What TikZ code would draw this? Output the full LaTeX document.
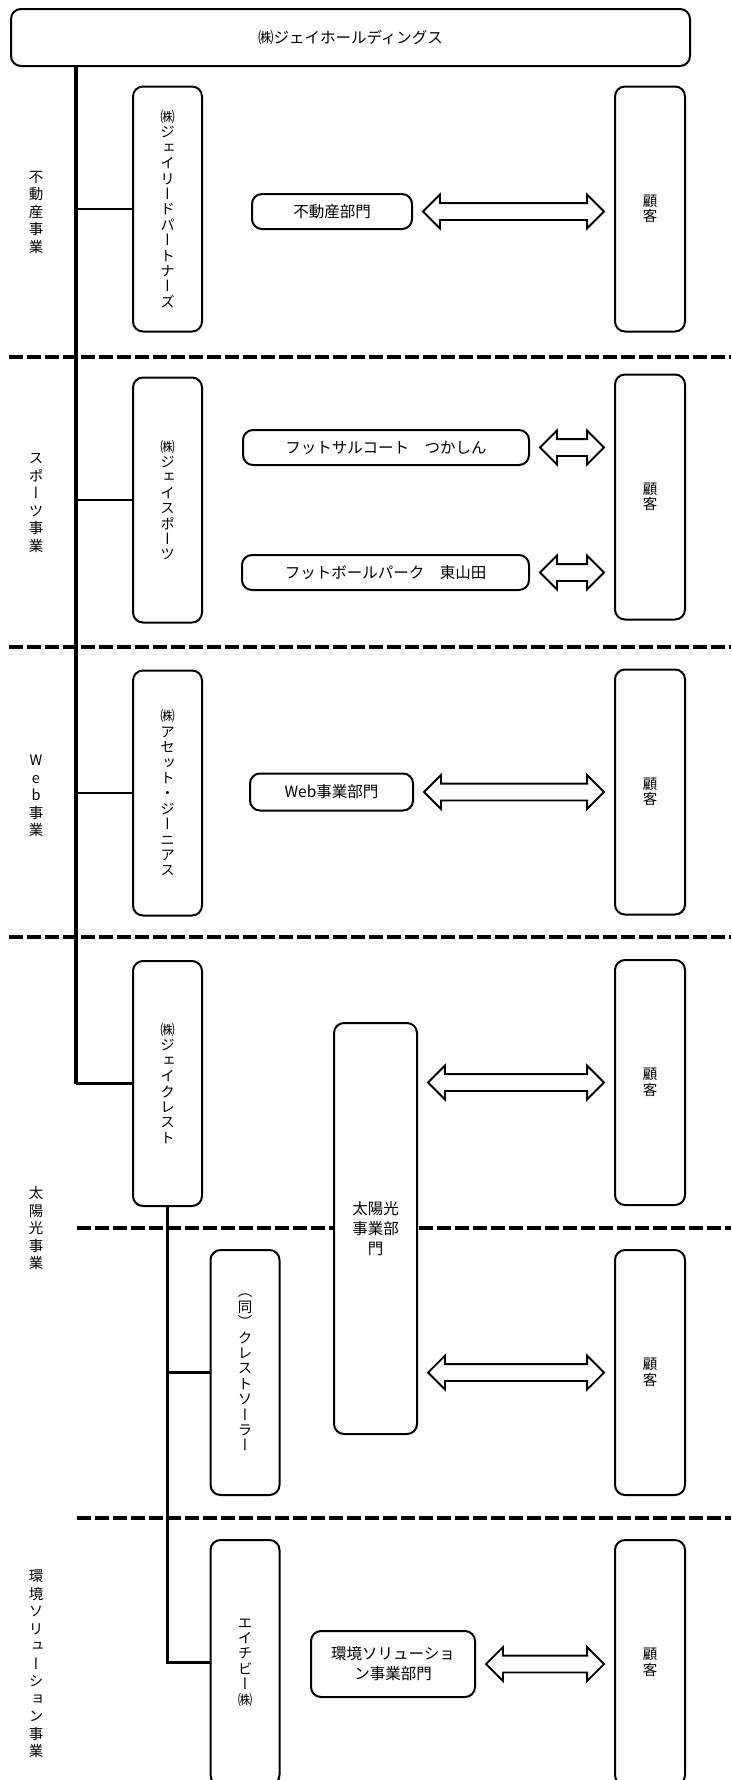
\documentclass[tikz,border=0pt]{standalone}
\usepackage{fontspec}
\setmainfont{Noto Sans CJK JP}
\newfontfamily\jpv[RawFeature=+vert]{Noto Sans CJK JP}
\usetikzlibrary{shapes.arrows,calc}

\newcommand\tate{\jpv\fontsize{14.5pt}{15.4pt}\selectfont\lineskiplimit=-20pt\relax}
\newcommand\tatelbl{\jpv\fontsize{14.5pt}{17.5pt}\selectfont\lineskiplimit=-20pt\relax}
\newcommand\yoko{\fontsize{15.5pt}{20pt}\selectfont}

\begin{document}
\begin{tikzpicture}[
x=1pt, y=-1pt,
box/.style={draw, line width=2pt, rounded corners=10pt, fill=white, inner sep=0pt, align=center},
co/.style={box, minimum width=69pt, minimum height=245pt, font=\tate},
cust/.style={co, minimum width=70pt},
dept/.style={box, minimum height=35pt, font=\yoko},
lbl/.style={align=center, inner sep=0pt, font=\tatelbl},
sep/.style={line width=3.3pt, dash pattern=on 14pt off 4pt},
trunk/.style={line width=4pt},
link/.style={line width=2.5pt},
dblarr/.style={double arrow, draw, fill=white, line width=1.8pt, inner xsep=0pt, inner ysep=7.5pt,
	double arrow head extend=8.5pt, double arrow tip angle=90}
]

\useasboundingbox (0,0) rectangle (731,1780);
\clip (0,0) rectangle (731,1780);



%%% Separators
\foreach \yy/\xx in {357/9, 647/9, 937/9, 1228/77, 1518/77}{
	\draw[sep] (\xx,\yy) -- (731,\yy);
}



%%% Holding
\node[box, minimum width=679pt, minimum height=57pt, font=\yoko] (hold) at (350.5,37.5) {㈱ジェイホールディングス};



%%% Business labels
\node[lbl] (lestate) at (36,212) {不\\動\\産\\事\\業};
\node[lbl] (lsport) at (36,503) {ス\\ポ\\ー\\ツ\\事\\業};
\node[lbl] (lweb) at (36,796) {W\\e\\b\\事\\業};
\node[lbl] (lsolar) at (36,1228) {太\\陽\\光\\事\\業};
\node[lbl] (lenv) at (36,1664) {環\\境\\ソ\\リ\\ュ\\ー\\シ\\ョ\\ン\\事\\業};



%%% Companies
\node[co] (jrp) at (167.5,209) {㈱\\ジ\\ェ\\イ\\リ\\ー\\ド\\パ\\ー\\ト\\ナ\\ー\\ズ};
\node[co] (jsp) at (167.5,500) {㈱\\ジ\\ェ\\イ\\ス\\ポ\\ー\\ツ};
\node[co] (ag) at (167.5,793) {㈱\\ア\\セ\\ッ\\ト\\・\\ジ\\ー\\ニ\\ア\\ス};
\node[co] (jc) at (167.5,1083.5) {㈱\\ジ\\ェ\\イ\\ク\\レ\\ス\\ト};
\node[co] (cs) at (245,1372.5) {（\\同\\）\\ク\\レ\\ス\\ト\\ソ\\ー\\ラ\\ー};
\node[co] (hcb) at (245,1662.5) {エ\\イ\\チ\\ビ\\ー\\㈱};

%%% Customers
\foreach \i/\yy in {1/209, 2/497, 3/792, 4/1082.5, 5/1372.5, 6/1662.5}{
	\node[cust] (c\i) at (650,\yy) {顧\\客};
}



%%% Departments
\node[dept, minimum width=160pt] (d1) at (332,211.5) {不動産部門};
\node[dept, minimum width=286pt] (d2a) at (386,447.5) {フットサルコート　つかしん};
\node[dept, minimum width=287pt] (d2b) at (385.5,572.5) {フットボールパーク　東山田};
\node[dept, minimum width=163pt, minimum height=37pt] (d3) at (331.5,792) {Web事業部門};
\node[dept, minimum width=83pt, minimum height=411pt] (d4) at (375.5,1228.5) {太陽光\\事業部\\門};
\node[dept, minimum width=164pt, minimum height=66pt] (d5) at (393,1664) {環境ソリューショ\\ン事業部門};



%%% Tree
\coordinate (trunk) at (76,0);
\draw[trunk] (trunk |- hold.south) -- (trunk |- jc.west);
\foreach \co in {jrp, jsp, ag, jc}{
	\draw[link] (trunk |- \co.west) -- (\co.west);
}
\draw[link] (jc.south) |- (hcb.west);
\draw[link] (jc.south |- cs.west) -- (cs.west);



%%% Arrows
\foreach \src/\dst/\lvl [count=\i] in {d1/c1/d1, d2a/c2/d2a, d2b/c2/d2b, d3/c3/d3, d4/c4/c4, d4/c5/c5, d5/c6/d5}{
	\path let \p1=(\src.east), \p2=(\dst.west), \p3=(\lvl.center), \n1={\x2-\x1-20pt} in
		node[dblarr, minimum height=\n1] (ar\i) at ({(\x1+\x2)/2},\y3) {};
}

\end{tikzpicture}
\end{document}
